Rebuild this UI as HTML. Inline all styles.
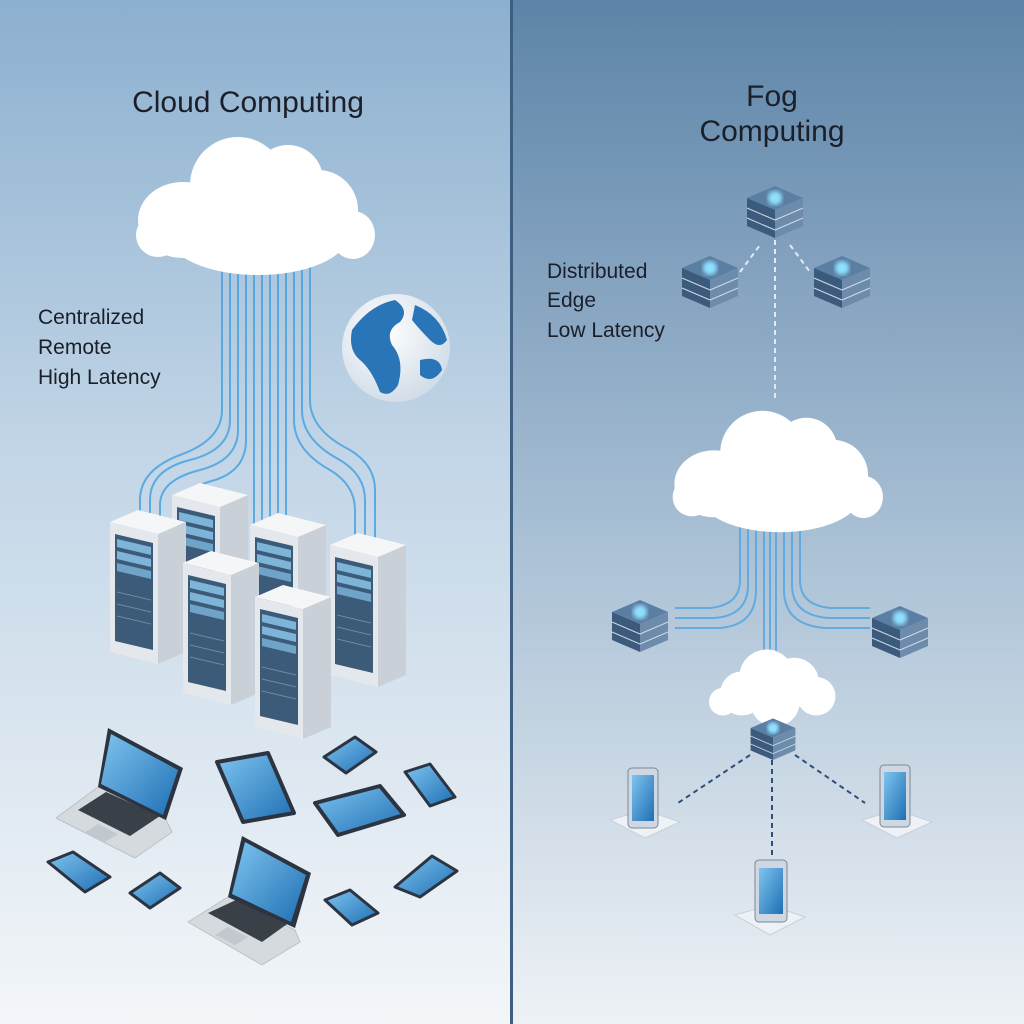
<!DOCTYPE html>
<html><head><meta charset="utf-8"><style>
html,body{margin:0;padding:0;width:1024px;height:1024px;overflow:hidden}
svg text{font-family:"Liberation Sans",sans-serif;fill:#1a1f2a}
</style></head><body>
<svg width="1024" height="1024" viewBox="0 0 1024 1024" xmlns="http://www.w3.org/2000/svg">
<defs>
<linearGradient id="gl" x1="0" y1="0" x2="0" y2="1">
<stop offset="0" stop-color="#8cb0cf"/><stop offset="0.45" stop-color="#c3d6e7"/><stop offset="1" stop-color="#f3f6f9"/></linearGradient>
<linearGradient id="gr" x1="0" y1="0" x2="0" y2="1">
<stop offset="0" stop-color="#5d84a8"/><stop offset="0.5" stop-color="#a5bdd3"/><stop offset="1" stop-color="#eef2f6"/></linearGradient>
<radialGradient id="globe" cx="0.4" cy="0.35" r="0.7"><stop offset="0" stop-color="#ffffff"/><stop offset="1" stop-color="#cfdbe6"/></radialGradient>
<linearGradient id="scr" x1="0" y1="0" x2="1" y2="1"><stop offset="0" stop-color="#7ec4ef"/><stop offset="1" stop-color="#1f6fb4"/></linearGradient>
<filter id="blur"><feGaussianBlur stdDeviation="2"/></filter>
<g id="tower">
 <polygon points="0,0 48,12 48,142 0,130" fill="#e4e8ec"/>
 <polygon points="48,12 76,0 76,130 48,142" fill="#c9d0d7"/>
 <polygon points="0,0 28,-12 76,0 48,12" fill="#f4f6f8"/>
 <polygon points="5,12 43,21 43,128 5,119" fill="#3c5b78"/>
 <polygon points="7,17 41,25 41,33 7,25" fill="#7fb4d9"/>
 <polygon points="7,29 41,37 41,45 7,37" fill="#7fb4d9"/>
 <polygon points="7,41 41,49 41,57 7,49" fill="#6fa3c8"/>
 <line x1="7" y1="70" x2="41" y2="78" stroke="#6b8aa5"/>
 <line x1="7" y1="82" x2="41" y2="90" stroke="#6b8aa5"/>
 <line x1="7" y1="94" x2="41" y2="102" stroke="#6b8aa5"/>
</g>
<g id="srv">
 <polygon points="-28,0 0,-12 28,0 0,12" fill="#5b7fa3"/>
 <polygon points="-28,0 0,12 0,40 -28,28" fill="#3c5b7c"/>
 <polygon points="0,12 28,0 28,28 0,40" fill="#6d8bab"/>
 <line x1="-28" y1="10" x2="0" y2="22" stroke="#cfdbe6"/><line x1="0" y1="22" x2="28" y2="10" stroke="#cfdbe6"/>
 <line x1="-28" y1="20" x2="0" y2="32" stroke="#cfdbe6"/><line x1="0" y1="32" x2="28" y2="20" stroke="#cfdbe6"/>
 <circle cx="0" cy="0" r="7" fill="#8fe0ff" filter="url(#blur)"/>
</g>
<g id="cloud" fill="#fff">
 <circle cx="-60" cy="10" r="40"/><circle cx="-15" cy="-20" r="50"/><circle cx="35" cy="-10" r="45"/><circle cx="75" cy="15" r="35"/><circle cx="0" cy="25" r="45"/><circle cx="-95" cy="25" r="25"/>
</g>
<g id="bigcloud" fill="#fff">
 <ellipse cx="-75" cy="10" rx="45" ry="38"/><circle cx="-20" cy="-25" r="48"/><circle cx="30" cy="-30" r="35"/><circle cx="60" cy="0" r="40"/><ellipse cx="95" cy="25" rx="22" ry="24"/><ellipse cx="0" cy="25" rx="90" ry="40"/><circle cx="-100" cy="25" r="22"/>
</g>
</defs>
<rect x="0" y="0" width="512" height="1024" fill="url(#gl)"/>
<rect x="512" y="0" width="512" height="1024" fill="url(#gr)"/>
<rect x="510" y="0" width="3" height="1024" fill="#3d5f82"/>

<text x="248" y="112" font-size="30" text-anchor="middle">Cloud Computing</text>
<text x="38" y="324" font-size="21">Centralized</text>
<text x="38" y="354" font-size="21">Remote</text>
<text x="38" y="384" font-size="21">High Latency</text>

<g stroke="#4aa3e0" stroke-width="2" fill="none" opacity="0.85">
<path d="M230 240 V420 Q230 450 190 460 Q150 470 150 500 V520"/>
<path d="M238 240 V430 Q238 460 200 470 Q160 480 160 505 V525"/>
<path d="M246 240 V440 Q246 470 215 480 Q178 490 178 510"/>
<path d="M254 240 V560 Q254 575 240 580 Q215 590 215 565"/>
<path d="M262 240 V600 Q262 610 268 620"/>
<path d="M270 240 V595 L282 605"/>
<path d="M278 240 V590 L290 605"/>
<path d="M286 240 V540"/>
<path d="M294 240 V420 Q294 450 330 470 Q355 485 355 510 V540"/>
<path d="M302 240 V410 Q302 440 340 460 Q365 475 365 500 V540"/>
<path d="M310 240 V400 Q310 430 350 450 Q375 465 375 490 V540"/>
<path d="M222 240 V410 Q222 440 180 455 Q140 470 140 500 V520"/>
</g>
<use href="#tower" x="172" y="495"/>
<use href="#tower" x="250" y="525"/>
<use href="#tower" x="110" y="522"/>
<use href="#tower" x="330" y="545"/>
<use href="#tower" x="183" y="563"/>
<use href="#tower" x="255" y="597"/>

<use href="#bigcloud" transform="translate(258,210)"/>

<circle cx="396" cy="348" r="54" fill="url(#globe)"/>
<path d="M352 330 Q370 305 395 300 Q410 310 400 322 Q385 330 392 345 Q405 360 398 385 Q390 398 380 392 Q372 370 360 360 Q348 350 352 330Z" fill="#2a74b8"/>
<path d="M415 305 Q440 315 447 340 Q440 350 430 340 Q420 330 412 320Z" fill="#2a74b8"/>
<path d="M420 360 Q440 355 442 370 Q432 385 420 375Z" fill="#2a74b8"/>

<!-- devices left -->
<g stroke-linejoin="round">
<!-- laptop 1 -->
<polygon points="98,787 166,820 172,832 135,858 56,818" fill="#d5dadf" stroke="#b9c0c7"/>
<polygon points="78,810 130,836 160,816 106,792" fill="#3a4048"/>
<polygon points="85,832 105,842 118,834 98,824" fill="#c2c8ce"/>
<polygon points="108,728 183,768 166,820 98,787" fill="#2b3440"/>
<polygon points="111,734 178,770 163,815 101,784" fill="url(#scr)"/>
<!-- laptop 2 -->
<polygon points="228,897 295,930 300,942 262,965 188,922" fill="#d5dadf" stroke="#b9c0c7"/>
<polygon points="208,913 262,942 290,922 236,900" fill="#3a4048"/>
<polygon points="215,935 235,945 248,937 228,927" fill="#c2c8ce"/>
<polygon points="242,836 311,873 295,928 228,897" fill="#2b3440"/>
<polygon points="245,842 306,875 291,922 232,894" fill="url(#scr)"/>
<!-- tablets & phones -->
<polygon points="217,762 268,753 294,813 243,822" fill="url(#scr)" stroke="#2b3440" stroke-width="4"/>
<polygon points="324,757 355,737 376,752 346,773" fill="url(#scr)" stroke="#2b3440" stroke-width="3"/>
<polygon points="315,803 380,786 404,815 338,835" fill="url(#scr)" stroke="#2b3440" stroke-width="4"/>
<polygon points="405,772 430,764 455,797 430,806" fill="url(#scr)" stroke="#2b3440" stroke-width="3"/>
<polygon points="48,862 73,852 110,877 85,892" fill="url(#scr)" stroke="#2b3440" stroke-width="3"/>
<polygon points="130,893 160,873 180,888 150,908" fill="url(#scr)" stroke="#2b3440" stroke-width="3"/>
<polygon points="325,900 350,890 378,913 352,925" fill="url(#scr)" stroke="#2b3440" stroke-width="3"/>
<polygon points="395,887 432,856 457,871 420,897" fill="url(#scr)" stroke="#2b3440" stroke-width="3"/>
</g>

<!-- RIGHT -->
<text x="772" y="106" font-size="30" text-anchor="middle">Fog</text>
<text x="772" y="141" font-size="30" text-anchor="middle">Computing</text>
<text x="547" y="278" font-size="21">Distributed</text>
<text x="547" y="307" font-size="21">Edge</text>
<text x="547" y="337" font-size="21">Low Latency</text>

<g stroke="#dfeaf4" stroke-width="2" stroke-dasharray="5,4" fill="none">
<line x1="740" y1="272" x2="760" y2="245"/>
<line x1="790" y1="245" x2="810" y2="272"/>
<line x1="775" y1="240" x2="775" y2="400"/>
</g>
<use href="#srv" x="775" y="198"/>
<use href="#srv" x="710" y="268"/>
<use href="#srv" x="842" y="268"/>

<g stroke="#5aa8e0" stroke-width="2" fill="none" opacity="0.9">
<path d="M740 520 V580 Q740 605 710 608 H675"/><path d="M748 520 V585 Q748 615 715 618 H675"/><path d="M756 520 V590 Q756 625 720 628 H675"/>
<path d="M800 520 V580 Q800 605 830 608 H870"/><path d="M792 520 V585 Q792 615 828 618 H870"/><path d="M784 520 V590 Q784 625 825 628 H870"/>
<path d="M764 520 V660"/><path d="M770 520 V660"/><path d="M776 520 V660"/>
</g>
<use href="#bigcloud" transform="translate(780,475) scale(0.88)"/>
<use href="#srv" x="640" y="612"/>
<use href="#srv" x="900" y="618"/>
<use href="#cloud" transform="translate(775,688) scale(0.55)"/>
<use href="#srv" transform="translate(773,728) scale(0.8)"/>

<g stroke="#2e4f78" stroke-width="2" stroke-dasharray="5,4" fill="none">
<line x1="750" y1="755" x2="678" y2="803"/>
<line x1="795" y1="755" x2="865" y2="803"/>
<line x1="772" y1="760" x2="772" y2="858"/>
</g>
<g>
<polygon points="610,820 645,810 680,822 645,838" fill="#eef2f6" stroke="#c7d0da"/>
<rect x="628" y="768" width="30" height="60" rx="4" fill="#cfd8e2" stroke="#7a8796"/><rect x="632" y="775" width="22" height="46" fill="url(#scr)"/>
<polygon points="862,820 897,810 932,822 897,838" fill="#eef2f6" stroke="#c7d0da"/>
<rect x="880" y="765" width="30" height="62" rx="4" fill="#cfd8e2" stroke="#7a8796"/><rect x="884" y="772" width="22" height="48" fill="url(#scr)"/>
<polygon points="735,915 770,905 805,917 770,935" fill="#eef2f6" stroke="#c7d0da"/>
<rect x="755" y="860" width="32" height="62" rx="4" fill="#cfd8e2" stroke="#7a8796"/><rect x="759" y="868" width="24" height="46" fill="url(#scr)"/>
</g>
</svg>
</body></html>
